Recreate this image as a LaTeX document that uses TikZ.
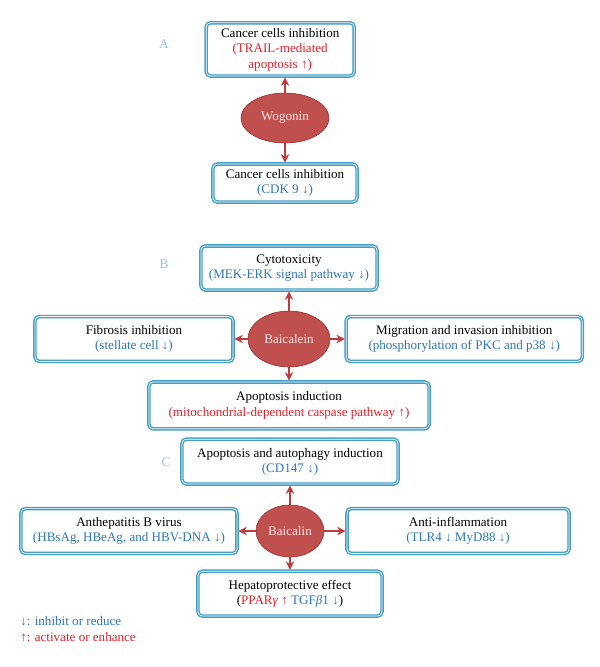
\documentclass[tikz,border=0pt]{standalone}
\usepackage{fontspec}
\setmainfont{Liberation Serif}
\usepackage{xcolor}
\usetikzlibrary{positioning, arrows.meta, shapes.geometric}

\definecolor{boxblue}{RGB}{66,158,196}
\definecolor{drugred}{RGB}{192,80,77}
\definecolor{drugedge}{RGB}{150,45,45}
\definecolor{linkred}{RGB}{190,60,60}
\definecolor{txtblue}{RGB}{46,117,182}
\definecolor{txtred}{RGB}{230,30,40}
\definecolor{lblblue}{RGB}{155,190,230}
\definecolor{druglabel}{RGB}{252,228,228}

\newcommand{\inh}[1]{\textcolor{txtblue}{#1}}
\newcommand{\act}[1]{\textcolor{txtred}{#1}}

\begin{document}
\begin{tikzpicture}[x=0.025cm, y=-0.025cm, >={Stealth[length=6pt, width=6pt]},
      effect/.style={draw=boxblue, line width=1pt, double=white, double distance=0.5pt, rounded corners=3pt,
        fill=white, align=center, inner sep=1pt, font=\fontsize{9.3}{11}\selectfont},
      drug/.style={ellipse, draw=drugedge, fill=drugred, text=druglabel, inner sep=0pt, font=\fontsize{9.3}{11}\selectfont},
      link/.style={->, draw=linkred, line width=1.8pt, shorten >=0.5pt},
      panel/.style={text=lblblue, font=\fontsize{9.5}{11}\selectfont},
      legend/.style={anchor=west, inner sep=0pt, font=\fontsize{9.3}{11}\selectfont}]

    \useasboundingbox (0,0) rectangle (600,667);

    % A: Wogonin
    \node[drug, minimum width=2.2cm, minimum height=1.25cm] (wog) at (285,118) {Wogonin};
    \node[effect, minimum width=3.7cm, minimum height=1.33cm, above=0.4cm of wog, xshift=-0.12cm] (wogtop)
      {Cancer cells inhibition\\\act{(TRAIL-mediated}\\\act{apoptosis ↑)}};
    \node[effect, minimum width=3.6cm, minimum height=0.95cm, below=0.5cm of wog] (wogbot)
      {Cancer cells inhibition\\\inh{(CDK 9 ↓)}};
    \node[panel] (labA) at (164,44) {A};

    \draw[link] (wog.north) -- (wog.north |- wogtop.south);
    \draw[link] (wog.south) -- (wogbot.north);

    % B: Baicalein
    \node[drug, minimum width=2.05cm, minimum height=1.4cm] (bai) at (289,339) {Baicalein};
    \node[effect, minimum width=4.4cm, minimum height=1.1cm, above=0.5cm of bai] (cyto)
      {Cytotoxicity\\\inh{(MEK-ERK signal pathway ↓)}};
    \node[effect, minimum width=4.95cm, minimum height=1.12cm, left=0.35cm of bai] (fibro)
      {Fibrosis inhibition\\\inh{(stellate cell ↓)}};
    \node[effect, minimum width=5.9cm, minimum height=1.12cm, right=0.38cm of bai] (migr)
      {Migration and invasion inhibition\\\inh{(phosphorylation of PKC and p38 ↓)}};
    \node[effect, minimum width=7.0cm, minimum height=1.17cm, below=0.35cm of bai] (apop)
      {Apoptosis induction\\\act{(mitochondrial-dependent caspase pathway ↑)}};
    \node[panel] (labB) at (164,264) {B};

    \draw[link] (bai) -- (cyto);
    \draw[link] (bai) -- (fibro);
    \draw[link] (bai) -- (migr);
    \draw[link] (bai) -- (apop);

    % C: Baicalin
    \node[drug, minimum width=1.7cm, minimum height=1.3cm] (bcl) at (290,531) {Baicalin};
    \node[effect, minimum width=5.4cm, minimum height=1.12cm, above=0.5cm of bcl] (autoph)
      {Apoptosis and autophagy induction\\\inh{(CD147 ↓)}};
    \node[effect, minimum width=5.4cm, minimum height=1.12cm, left=0.45cm of bcl] (hbv)
      {Anthepatitis B virus\\\inh{(HBsAg, HBeAg, and HBV-DNA ↓)}};
    \node[effect, minimum width=5.55cm, minimum height=1.12cm, right=0.55cm of bcl] (inflam)
      {Anti-inflammation\\\inh{(TLR4 ↓ MyD88 ↓)}};
    \node[effect, minimum width=4.6cm, minimum height=1.12cm, below=0.33cm of bcl] (hepato)
      {Hepatoprotective effect\\(\act{PPAR\textit{γ} ↑} \inh{TGF\textit{β}1 ↓})};
    \node[panel] (labC) at (166,462) {C};

    \draw[link] (bcl) -- (autoph);
    \draw[link] (bcl) -- (hbv);
    \draw[link] (bcl) -- (inflam);
    \draw[link] (bcl) -- (hepato);

    % legend
    \node[legend, text=txtblue] (leginh) at (20,621) {↓: inhibit or reduce};
    \node[legend, text=txtred] (legact) at (20,637) {↑: activate or enhance};
  \end{tikzpicture}
\end{document}
